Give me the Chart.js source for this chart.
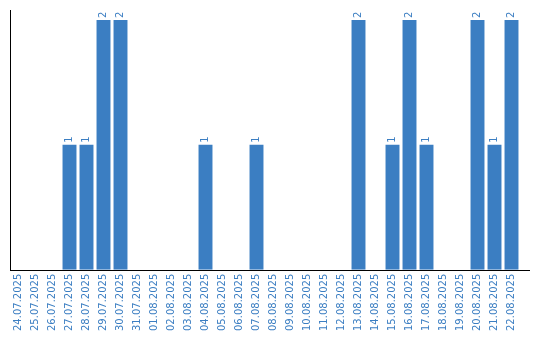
<!DOCTYPE html>
<html><head><meta charset="utf-8">
<script src="https://cdn.jsdelivr.net/npm/chart.js@4/dist/chart.umd.min.js"></script>
<style>html,body{margin:0;padding:0;background:#fff}#wrap{width:540px;height:340px}</style>
</head><body><div id="wrap"><canvas id="c"></canvas></div>
<script>
const categories = ["24.07.2025","25.07.2025","26.07.2025","27.07.2025","28.07.2025","29.07.2025","30.07.2025","31.07.2025","01.08.2025","02.08.2025","03.08.2025","04.08.2025","05.08.2025","06.08.2025","07.08.2025","08.08.2025","09.08.2025","10.08.2025","11.08.2025","12.08.2025","13.08.2025","14.08.2025","15.08.2025","16.08.2025","17.08.2025","18.08.2025","19.08.2025","20.08.2025","21.08.2025","22.08.2025"];
const values = [0,0,0,1,1,2,2,0,0,0,0,1,0,0,1,0,0,0,0,0,2,0,1,2,1,0,0,2,1,2];
const BLUE = '#3b7ec2';
const labelPlugin = {
  id: 'vlabels',
  afterDatasetsDraw(chart) {
    const ctx = chart.ctx;
    const meta = chart.getDatasetMeta(0);
    ctx.save();
    ctx.fillStyle = BLUE;
    ctx.font = '10px "DejaVu Sans"';
    ctx.textAlign = 'left';
    ctx.textBaseline = 'middle';
    meta.data.forEach((bar, i) => {
      const v = values[i];
      if (!v) return;
      ctx.save();
      ctx.translate(bar.x, bar.y - 2);
      ctx.rotate(-Math.PI / 2);
      ctx.fillText(String(v), 0, 0);
      ctx.restore();
    });
    ctx.restore();
  },
  afterDraw(chart) {
    const ctx = chart.ctx, a = chart.chartArea;
    ctx.save();
    ctx.strokeStyle = '#000';
    ctx.lineWidth = 1;
    ctx.beginPath();
    const y = Math.round(a.bottom) + 0.5;
    ctx.moveTo(Math.round(a.left), y);
    ctx.lineTo(chart.width - 10, y);
    ctx.stroke();
    ctx.restore();
  }
};
new Chart(document.getElementById('c'), {
  type: 'bar',
  data: { labels: categories, datasets: [{ data: values, backgroundColor: BLUE, barPercentage: 0.82, categoryPercentage: 1 }] },
  options: {
    responsive: true, maintainAspectRatio: false, animation: false,
    layout: { padding: { left: 10, right: 20, top: 10, bottom: 5 } },
    plugins: { legend: { display: false }, tooltip: { enabled: false } },
    scales: {
      x: {
        grid: { display: false, drawTicks: false },
        border: { display: false },
        ticks: { color: BLUE, font: { family: 'DejaVu Sans', size: 10 }, minRotation: 90, maxRotation: 90, autoSkip: false, padding: 4 }
      },
      y: {
        min: 0, max: 2.08,
        grid: { display: false, drawTicks: false },
        border: { display: true, color: '#000', width: 1 },
        ticks: { display: false }
      }
    }
  },
  plugins: [labelPlugin]
});
</script></body></html>
